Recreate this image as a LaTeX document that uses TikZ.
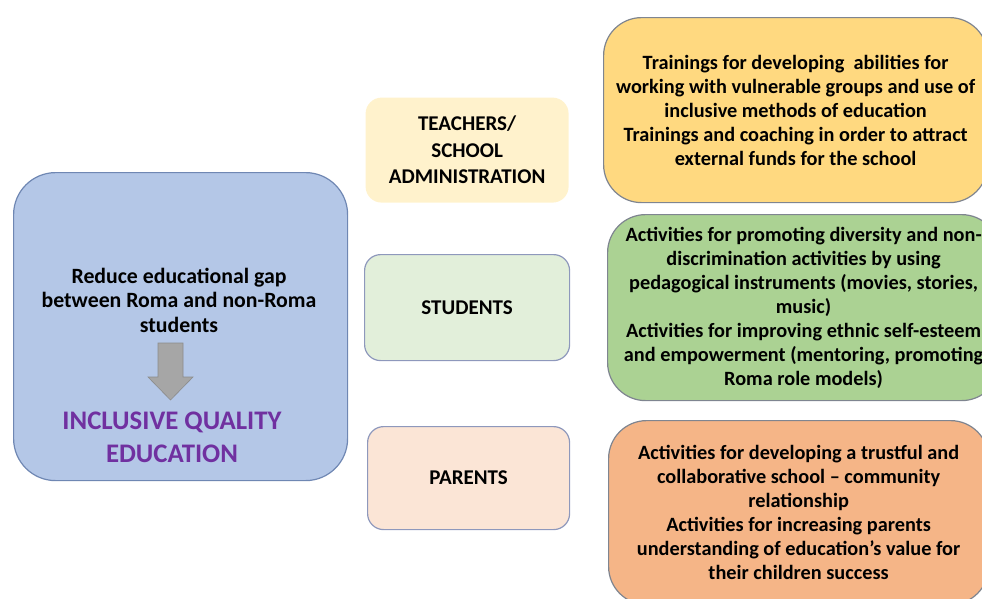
\documentclass[tikz,border=0pt]{standalone}
\usepackage{fontspec}
\setmainfont{Carlito}
\definecolor{leftfill}{HTML}{B4C7E7}
\definecolor{leftdraw}{HTML}{6F87B3}
\definecolor{teachfill}{HTML}{FFF2CC}
\definecolor{studfill}{HTML}{E2EFDA}
\definecolor{parfill}{HTML}{FBE5D6}
\definecolor{middraw}{HTML}{8E98BC}
\definecolor{yelfill}{HTML}{FFD980}
\definecolor{grnfill}{HTML}{ABD293}
\definecolor{orgfill}{HTML}{F5B587}
\definecolor{rightdraw}{HTML}{7F8590}
\definecolor{goalpurple}{HTML}{7030A0}
\definecolor{arrowfill}{HTML}{A6A6A6}
\definecolor{arrowdraw}{HTML}{8C8C8C}
\begin{document}
\begin{tikzpicture}[x=1pt,y=-1pt,
  boxbase/.style={rectangle, anchor=north west, align=center, inner sep=0pt, line width=1.2pt},
  midbox/.style={boxbase, rounded corners=16pt, font=\bfseries\fontsize{21}{26.5}\selectfont},
  rightbox/.style={boxbase, rounded corners=38pt, draw=rightdraw, font=\bfseries\fontsize{20.3}{24}\selectfont},
  lefttxt/.style={align=center, inner sep=0pt, font=\bfseries\fontsize{21.8}{24.5}\selectfont},
  goaltxt/.style={align=center, inner sep=0pt, text=goalpurple, font=\bfseries\fontsize{26.8}{33}\selectfont},
]
\useasboundingbox (0,0) rectangle (982,598);
\begin{scope}
\clip (0,0) rectangle (982,598);
% left box
\node[boxbase, rounded corners=42pt, draw=leftdraw, fill=leftfill,
      minimum width=334pt, minimum height=308pt] (leftbox) at (13,172) {};
\node[lefttxt] (gap) at (179,300) {Reduce educational gap\\between Roma and non-Roma\\students};
\node[goaltxt] (goal) at (172,437) {INCLUSIVE QUALITY\\EDUCATION};
\draw[fill=arrowfill, draw=arrowdraw, line width=0.6pt]
  (158,343) -- (183,343) -- (183,377) -- (193,377) -- (170.5,400) -- (148,377) -- (158,377) -- cycle;
% middle boxes
\node[midbox, fill=teachfill, minimum width=203pt, minimum height=105pt] (teach) at (365,97)
  {TEACHERS/\\SCHOOL\\ADMINISTRATION};
\node[midbox, draw=middraw, fill=studfill, minimum width=205pt, minimum height=106pt] (stud) at (364,254)
  {STUDENTS};
\node[midbox, draw=middraw, fill=parfill, minimum width=202pt, minimum height=103pt] (par) at (367,426)
  {PARENTS};
% right boxes
\node[rightbox, fill=yelfill, minimum width=384pt, minimum height=185pt] (ract) at (603,17)
  {Trainings for developing\ \ abilities for\\working with vulnerable groups and use of\\inclusive methods of education\\Trainings and coaching in order to attract\\external funds for the school};
\node[rightbox, fill=grnfill, minimum width=392pt, minimum height=186pt] (sact) at (607,214)
  {Activities for promoting diversity and non-\\discrimination activities by using\\pedagogical instruments (movies, stories,\\music)\\Activities for improving ethnic self-esteem\\and empowerment (mentoring, promoting\\Roma role models)};
\node[rightbox, fill=orgfill, minimum width=380pt, minimum height=184pt] (pact) at (608,420)
  {Activities for developing a trustful and\\collaborative school -- community\\relationship\\Activities for increasing parents\\understanding of education’s value for\\their children success};
\end{scope}
\end{tikzpicture}
\end{document}
